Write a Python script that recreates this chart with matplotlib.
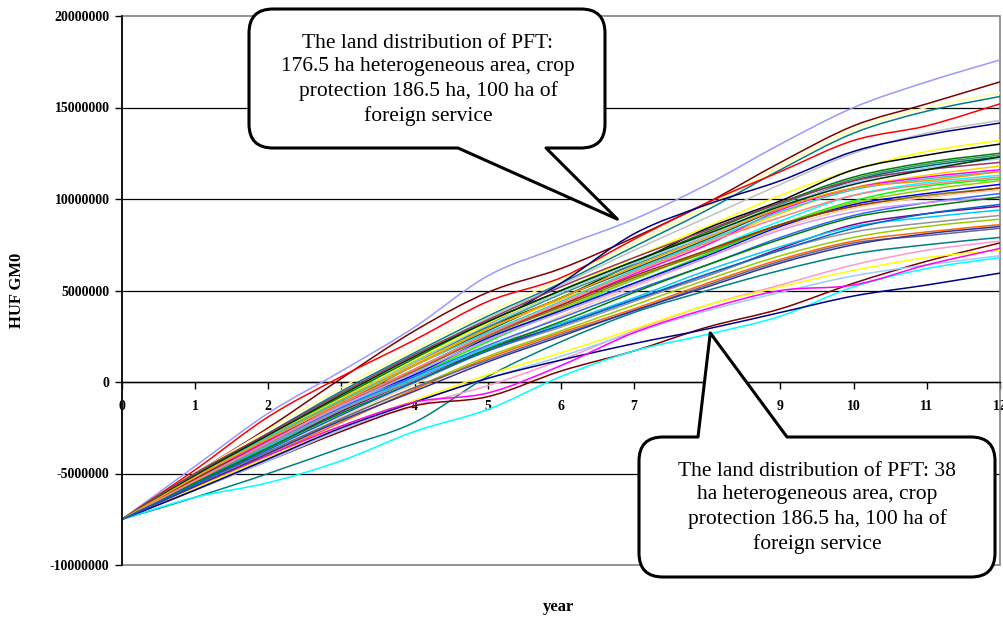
import numpy as np
import matplotlib
matplotlib.use("Agg")
import matplotlib.pyplot as plt
from matplotlib.path import Path
from matplotlib.patches import PathPatch, Rectangle
from matplotlib.transforms import IdentityTransform
from matplotlib.ticker import FuncFormatter

# years on the x axis
years = list(range(13))

# cumulative HUF GM0 per scenario, in million HUF
s01 = [-7.5, -4.6, -1.7, 0.6, 3.0, 5.8, 7.4, 8.9, 10.8, 13.0, 15.0, 16.4, 17.6]
s02 = [-7.5, -5.0, -2.5, 0.2, 2.8, 4.9, 6.2, 7.9, 9.8, 12.0, 14.0, 15.2, 16.4]
s03 = [-7.5, -5.0, -2.6, -0.3, 1.8, 3.8, 5.6, 7.6, 9.6, 11.8, 13.8, 15.0, 15.8]
s04 = [-7.5, -5.1, -2.8, -0.5, 1.6, 3.6, 5.4, 7.4, 9.4, 11.6, 13.6, 14.8, 15.6]
s05 = [-7.5, -4.8, -1.9, 0.3, 2.3, 4.4, 5.7, 7.8, 9.8, 11.5, 13.2, 14.0, 15.2]
s06 = [-7.5, -5.3, -3.0, -0.7, 1.4, 3.5, 5.3, 7.2, 9.0, 10.8, 12.5, 13.6, 14.3]
s07 = [-7.5, -5.2, -3.0, -1.0, 1.0, 3.1, 5.4, 8.1, 9.7, 11.0, 12.6, 13.5, 14.15]
s08 = [-7.5, -5.1, -2.9, -0.8, 1.2, 3.2, 5.0, 6.8, 8.5, 10.2, 11.6, 12.6, 13.2]
s09 = [-7.5, -5.2, -3.1, -1.0, 1.1, 3.0, 4.6, 6.5, 8.4, 9.9, 11.6, 12.4, 13.0]
s10 = [-7.5, -5.0, -2.9, -0.8, 1.3, 3.3, 5.0, 6.6, 8.2, 9.8, 11.2, 12.0, 12.5]
s11 = [-7.5, -5.2, -3.1, -1.0, 1.0, 3.0, 4.8, 6.4, 8.0, 9.7, 11.1, 11.9, 12.4]
s12 = [-7.5, -5.3, -3.2, -1.2, 0.9, 2.8, 4.6, 6.2, 7.8, 9.5, 11.0, 11.8, 12.3]
s13 = [-7.5, -5.1, -3.0, -0.9, 1.1, 3.1, 4.9, 6.5, 8.0, 9.6, 10.9, 11.7, 12.2]
s14 = [-7.5, -5.0, -2.8, -0.6, 1.5, 3.4, 5.2, 6.8, 8.3, 9.8, 11.0, 11.6, 12.0]
s15 = [-7.5, -5.2, -3.0, -0.9, 1.0, 2.9, 4.5, 6.0, 7.6, 9.2, 10.6, 11.3, 11.8]
s16 = [-7.5, -5.3, -3.2, -1.3, 0.6, 2.5, 4.2, 5.9, 7.5, 9.4, 10.6, 11.2, 11.6]
s17 = [-7.5, -5.4, -3.4, -1.4, 0.5, 2.3, 3.9, 5.6, 7.2, 8.8, 10.2, 10.9, 11.3]
s18 = [-7.5, -5.6, -3.6, -1.6, 0.3, 2.2, 3.9, 5.4, 7.0, 8.6, 9.9, 10.7, 11.1]
s19 = [-7.5, -5.5, -3.5, -1.5, 0.4, 2.3, 4.0, 5.6, 7.2, 8.6, 9.8, 10.5, 11.0]
s20 = [-7.5, -5.3, -3.3, -1.2, 0.4, 2.4, 3.9, 5.4, 6.9, 8.5, 9.7, 10.3, 10.8]
s21 = [-7.5, -5.4, -3.4, -1.3, 0.6, 2.5, 4.1, 5.7, 7.1, 8.6, 9.6, 10.2, 10.6]
s22 = [-7.5, -5.3, -3.3, -1.2, 0.7, 2.6, 4.2, 5.8, 7.2, 8.6, 9.6, 10.1, 10.6]
s23 = [-7.5, -5.6, -3.8, -1.9, -0.1, 1.8, 3.6, 5.2, 6.8, 8.4, 9.5, 10.1, 10.5]
s24 = [-7.5, -5.5, -3.4, -1.4, 0.3, 2.0, 3.5, 5.0, 6.4, 7.9, 9.1, 9.8, 10.3]
s25 = [-7.5, -5.4, -3.3, -1.3, 0.5, 2.3, 3.8, 5.3, 6.8, 8.3, 9.3, 9.8, 10.1]
s26 = [-7.5, -5.6, -3.6, -1.6, 0.1, 1.8, 3.1, 4.5, 5.8, 7.3, 8.6, 9.2, 9.6]
s27 = [-7.5, -5.5, -3.5, -1.5, 0.2, 1.9, 3.2, 4.6, 6.1, 7.4, 8.5, 9.0, 9.4]
s28 = [-7.5, -5.4, -3.4, -1.5, 0.1, 1.7, 3.0, 4.4, 5.8, 7.2, 8.2, 8.7, 9.1]
s29 = [-7.5, -5.7, -3.9, -2.0, -0.3, 1.4, 2.8, 4.2, 5.6, 6.9, 7.9, 8.5, 8.9]
s30 = [-7.5, -5.8, -4.0, -2.2, -0.4, 1.3, 2.7, 4.0, 5.4, 6.7, 7.7, 8.2, 8.6]
s31 = [-7.5, -5.6, -3.8, -2.0, -0.3, 1.2, 2.6, 3.9, 5.3, 6.6, 7.6, 8.0, 8.4]
s32 = [-7.5, -6.3, -5.0, -3.6, -2.2, 0.3, 2.2, 3.8, 5.0, 6.1, 7.0, 7.5, 7.9]
s33 = [-7.5, -5.9, -4.2, -2.6, -1.3, -0.2, 1.2, 2.8, 4.2, 5.3, 6.4, 7.2, 7.7]
s34 = [-7.5, -5.9, -4.3, -2.7, -1.3, -0.8, 0.6, 1.7, 3.0, 4.0, 5.4, 6.6, 7.6]
s35 = [-7.5, -5.8, -4.1, -2.4, -1.0, 0.4, 1.6, 2.9, 4.2, 5.2, 6.1, 6.8, 7.2]
s36 = [-7.5, -5.9, -4.3, -2.6, -1.1, 0.2, 1.4, 2.7, 3.9, 4.9, 5.8, 6.4, 6.9]
s37 = [-7.5, -6.3, -5.5, -4.3, -2.7, -1.5, 0.3, 1.7, 2.6, 3.6, 5.2, 6.2, 6.8]
s38 = [-7.5, -5.9, -4.2, -2.5, -1.1, 0.2, 1.2, 2.1, 2.9, 3.8, 4.7, 5.3, 5.95]
s39 = [-7.5, -5.7, -4.0, -2.4, -1.1, -0.6, 0.9, 2.7, 4.0, 5.0, 5.3, 6.4, 7.3]
s40 = [-7.5, -5.5, -3.6, -1.7, 0.0, 1.8, 3.3, 4.9, 6.4, 7.8, 9.0, 9.6, 10.1]
s41 = [-7.5, -5.1, -3.0, -1.0, 0.9, 2.7, 4.4, 6.1, 7.7, 9.3, 10.5, 11.1, 11.5]
s42 = [-7.5, -5.7, -3.9, -2.1, -0.5, 1.1, 2.5, 3.9, 5.2, 6.5, 7.5, 8.1, 8.5]
s43 = [-7.5, -5.4, -3.3, -1.2, 0.7, 2.6, 4.3, 6.0, 7.6, 9.0, 10.2, 10.8, 11.2]
s44 = [-7.5, -5.1, -2.9, -0.7, 1.4, 3.3, 5.0, 6.6, 8.1, 9.6, 10.8, 11.6, 12.3]
s45 = [-7.5, -5.2, -3.1, -1.1, 0.9, 2.9, 4.6, 6.3, 7.9, 9.5, 10.6, 11.0, 11.5]
s46 = [-7.5, -5.6, -3.7, -1.8, 0.0, 1.7, 3.1, 4.5, 5.9, 7.2, 8.4, 9.2, 9.7]

series = [s01, s02, s03, s04, s05, s06, s07, s08, s09, s10, s11, s12, s13, s14, s15, s16,
          s17, s18, s19, s20, s21, s22, s23, s24, s25, s26, s27, s28, s29, s30, s31, s32,
          s33, s34, s35, s36, s37, s38, s39, s40, s41, s42, s43, s44, s45, s46]

colors = ["#9999FF", "#800000", "#FFFF99", "#008080", "#FF0000", "#C0C0C0", "#000080", "#FFFF00",
          "#000000", "#008000", "#339966", "#006666", "#99CCFF", "#993366", "#FFCC00", "#FF00FF",
          "#00FFFF", "#00FF00", "#99CC00", "#0000FF", "#808000", "#993300", "#FFCC99", "#3366FF",
          "#CC99FF", "#800080", "#00CCFF", "#969696", "#99CC00", "#FF6600", "#666699", "#008080",
          "#FF99CC", "#800000", "#FFFF00", "#99CCFF", "#00FFFF", "#000080", "#FF00FF", "#008000",
          "#33CCCC", "#333399", "#FF8080", "#003300", "#FF9900", "#0066CC"]

y_ticks = [-10000000, -5000000, 0, 5000000, 10000000, 15000000, 20000000]

note_top = ("The land distribution of PFT:\n176.5 ha heterogeneous area, crop\n"
            "protection 186.5 ha, 100 ha of\nforeign service")
note_bottom = ("The land distribution of PFT: 38\nha heterogeneous area, crop\n"
               "protection 186.5 ha, 100 ha of\nforeign service")

SERIF = "Liberation Serif"
W, H = 1004, 621


def smooth_path(xs, ys):
    """Catmull-Rom style smoothed line, like Excel's 'smoothed line' option."""
    pts = np.column_stack([xs, ys])
    verts = [pts[0]]
    codes = [Path.MOVETO]
    n = len(pts)
    for i in range(n - 1):
        p0 = pts[max(i - 1, 0)]
        p1 = pts[i]
        p2 = pts[i + 1]
        p3 = pts[min(i + 2, n - 1)]
        c1 = p1 + (p2 - p0) / 6.0
        c2 = p2 - (p3 - p1) / 6.0
        verts += [c1, c2, p2]
        codes += [Path.CURVE4] * 3
    return Path(verts, codes)


def callout_path(x0, yt, x1, yb, b0, b1, tip, side, r=24):
    """Rounded box (pixel coords, image y-down) with a wedge pointing to tip (display coords)."""
    top = H - yt
    bot = H - yb
    tx, ty = tip
    v = [(x0 + r, bot)]
    c = [Path.MOVETO]
    if side == "bottom":
        v += [(b0, bot), (tx, ty), (b1, bot)]
        c += [Path.LINETO] * 3
    v += [(x1 - r, bot), (x1, bot), (x1, bot + r), (x1, top - r), (x1, top), (x1 - r, top)]
    c += [Path.LINETO, Path.CURVE3, Path.CURVE3, Path.LINETO, Path.CURVE3, Path.CURVE3]
    if side == "top":
        v += [(b1, top), (tx, ty), (b0, top)]
        c += [Path.LINETO] * 3
    v += [(x0 + r, top), (x0, top), (x0, top - r), (x0, bot + r), (x0, bot), (x0 + r, bot),
          (x0 + r, bot)]
    c += [Path.LINETO, Path.CURVE3, Path.CURVE3, Path.LINETO, Path.CURVE3, Path.CURVE3,
          Path.CLOSEPOLY]
    return Path(v, c)


fig = plt.figure(figsize=(W / 100, H / 100), dpi=100)
ax = fig.add_axes([122 / W, 1 - 565 / H, 878 / W, 549 / H])

for vals, col in zip(series, colors):
    ys = np.array(vals) * 1e6
    ax.add_patch(PathPatch(smooth_path(years, ys), fill=False, edgecolor=col,
                           lw=1.1, transform=ax.transData, zorder=3))

ax.set_xlim(0, 12)
ax.set_ylim(-10000000, 20000000)
ax.set_xticks(years)
ax.set_yticks(y_ticks)
ax.yaxis.set_major_formatter(FuncFormatter(lambda v, p: f"{int(v)}"))

for y in y_ticks[1:-1]:
    ax.axhline(y, color="black", lw=0.9, zorder=1)

for side in ["top", "right"]:
    ax.spines[side].set_visible(False)
ax.add_patch(Rectangle((0, 0), 1, 1, transform=ax.transAxes, fill=False,
                       edgecolor="#808080", lw=1.2, zorder=2, clip_on=False))
ax.spines["left"].set_color("black")
ax.spines["left"].set_linewidth(1.2)
ax.spines["left"].set_zorder(4)
ax.spines["bottom"].set_position(("data", 0))
ax.spines["bottom"].set_color("black")
ax.spines["bottom"].set_linewidth(1.0)

ax.tick_params(axis="y", direction="out", length=5, width=1, pad=4)
ax.tick_params(axis="x", direction="out", length=5, width=1, pad=8)
for lab in ax.get_xticklabels() + ax.get_yticklabels():
    lab.set_fontfamily(SERIF)
    lab.set_fontweight("bold")
    lab.set_fontsize(10)

ax.set_ylabel("HUF GM0", fontfamily=SERIF, fontweight="bold", fontsize=12)
ax.yaxis.set_label_coords(-0.11, 0.5)
ax.set_xlabel("year", fontfamily=SERIF, fontweight="bold", fontsize=12)
ax.xaxis.set_label_coords(0.497, -0.062)

# callouts
tip1 = ax.transData.transform((6.77, 8900000))
tip2 = ax.transData.transform((8.04, 2680000))
p1 = callout_path(249, 9, 605, 148, 458, 546, tip1, "bottom")
p2 = callout_path(639, 437, 995, 577, 698, 787, tip2, "top")
for p in (p1, p2):
    fig.add_artist(PathPatch(p, facecolor="white", edgecolor="black", lw=2.2,
                             transform=IdentityTransform(), zorder=10, joinstyle="round"))

fig.text(428 / W, 1 - 80 / H, note_top, ha="center", va="center", fontfamily=SERIF,
         fontsize=15.5, linespacing=1.33, zorder=11)
fig.text(817 / W, 1 - 508 / H, note_bottom, ha="center", va="center", fontfamily=SERIF,
         fontsize=15.5, linespacing=1.33, zorder=11)

fig.savefig("out.png", dpi=100)
